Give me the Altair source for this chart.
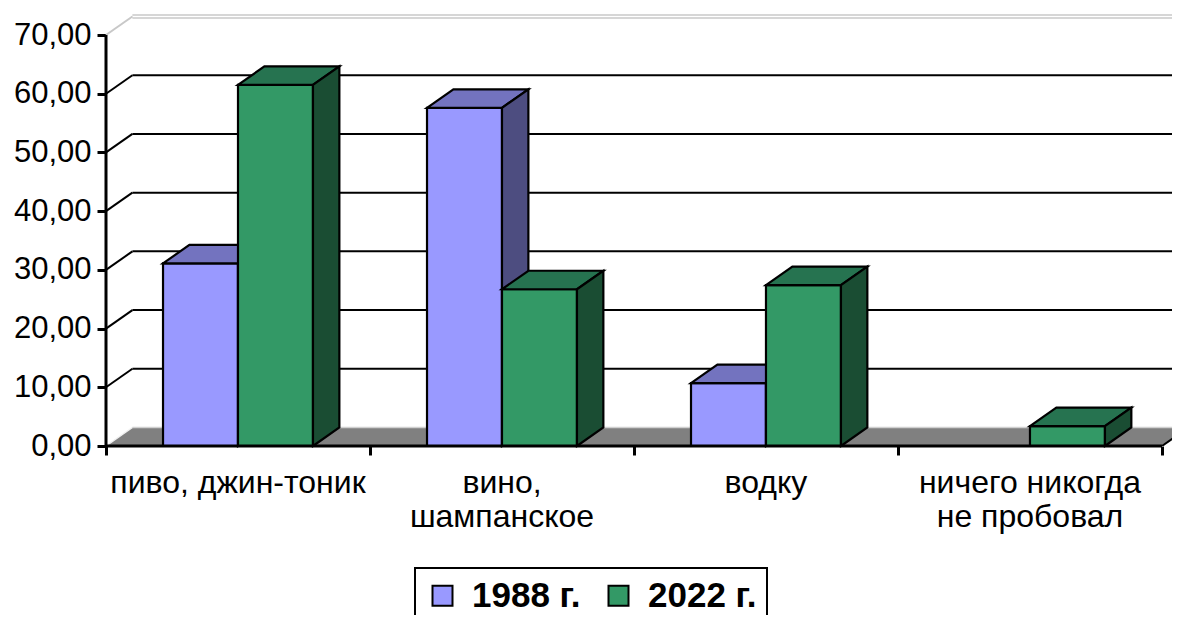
import altair as alt
import pandas as pd

# ---- data ----
categories = ["пиво, джин-тоник", "вино,\nшампанское", "водку", "ничего никогда\nне пробовал"]
series = ["1988 г.", "2022 г."]
values_1988 = [31.1, 57.6, 10.7, None]
values_2022 = [61.5, 26.7, 27.4, 3.4]
y_ticks = [0, 10, 20, 30, 40, 50, 60, 70]

# ---- styles ----
front_colors = ["#9999FF", "#339966"]
top_colors = ["#7373BF", "#267350"]
side_colors = ["#4D4D80", "#1A4D33"]
FONT = "Liberation Sans"

# 3D depth (in data units) and bar layout inside a category slot
DX = 0.1
DY = 3.15
BAR_OFF = 0.216
BAR_W = 0.284
N = len(categories)
X_MAX = 4.038
Y_MAX = 74.6

xs = alt.Scale(domain=[0, X_MAX], nice=False, zero=False)
ys = alt.Scale(domain=[0, Y_MAX], nice=False, zero=True)
xaxis = alt.Axis(values=list(range(N + 1)), labels=False, domain=False, grid=False,
                 tickSize=9, tickWidth=3, tickColor="black", title=None)
yaxis = alt.Axis(values=y_ticks, domain=False, grid=False, tickSize=9, tickWidth=3,
                 tickColor="black", title=None,
                 labelExpr="replace(format(datum.value, '.2f'), '.', ',')",
                 labelFont=FONT, labelFontSize=31, labelColor="black", labelPadding=6)


def X(f):
    return alt.X(f, type="quantitative", scale=xs, axis=xaxis)


def Y(f):
    return alt.Y(f, type="quantitative", scale=ys, axis=yaxis, stack=None)


# ---- build tables ----
front, top, side = [], [], []
for j, (s, vals) in enumerate(zip(series, [values_1988, values_2022])):
    for i, v in enumerate(vals):
        if v is None:
            continue
        x0 = i + BAR_OFF + j * BAR_W
        x1 = x0 + BAR_W
        b = f"{j}-{i}"
        front.append(dict(series=s, bar=b, x0=x0, x1=x1, y0=0.0, v=v))
        top += [
            dict(series=s, bar=b, x=x0, y=v, y2=v),
            dict(series=s, bar=b, x=x0 + DX, y=v, y2=v + DY),
            dict(series=s, bar=b, x=x1, y=v, y2=v + DY),
            dict(series=s, bar=b, x=x1 + DX, y=v + DY, y2=v + DY),
        ]
        side += [
            dict(series=s, bar=b, x=x1, y=0.0, y2=v),
            dict(series=s, bar=b, x=x1 + DX, y=DY, y2=v + DY),
        ]
front = pd.DataFrame(front)
top = pd.DataFrame(top)
side = pd.DataFrame(side)

grid = pd.DataFrame({"t": y_ticks})
grid["xa"] = 0.0
grid["xb"] = DX
grid["xe"] = N + DX
grid["ya"] = grid["t"].astype(float)
grid["yb"] = grid["t"] + DY
inner = grid[(grid.t > 0) & (grid.t < max(y_ticks))]
topg = grid[grid.t == max(y_ticks)]
zerog = grid[grid.t == 0]

floor = pd.DataFrame({"x": [0, DX, N, N + DX], "y": [0, 0, 0, DY], "y2": [0, DY, DY, DY]})
edge = pd.DataFrame({"xa": [float(N)], "xb": [N + DX], "ya": [0.0], "yb": [DY]})
axes_df = pd.DataFrame({"xa": [0.0], "xe": [float(N)], "ya": [0.0], "yt": [float(max(y_ticks))]})
labels = pd.DataFrame({"x": [i + 0.5 for i in range(N)], "label": categories})

# ---- layers ----
layers = []
layers.append(alt.Chart(inner).mark_rule(color="black", strokeWidth=2, clip=True)
              .encode(x=X("xb"), x2="xe", y=Y("yb")))
layers.append(alt.Chart(topg).mark_rule(color="#C8C8C8", strokeWidth=4.5, clip=True)
              .encode(x=X("xb"), x2="xe", y=Y("yb")))
layers.append(alt.Chart(topg).mark_rule(color="white", strokeWidth=1.5, clip=True)
              .encode(x=X("xb"), x2="xe", y=Y("yb")))
layers.append(alt.Chart(floor).mark_area(color="#808080", clip=True)
              .encode(x=X("x"), y=Y("y"), y2="y2"))
layers.append(alt.Chart(zerog).mark_rule(color="#D0D0D0", strokeWidth=1.5, clip=True)
              .encode(x=X("xb"), x2="xe", y=Y("yb")))
layers.append(alt.Chart(inner).mark_rule(color="black", strokeWidth=2)
              .encode(x=X("xa"), x2="xb", y=Y("ya"), y2="yb"))
layers.append(alt.Chart(topg).mark_rule(color="#C8C8C8", strokeWidth=2)
              .encode(x=X("xa"), x2="xb", y=Y("ya"), y2="yb"))
layers.append(alt.Chart(zerog).mark_rule(color="#F0F0F0", strokeWidth=1.5)
              .encode(x=X("xa"), x2="xb", y=Y("ya"), y2="yb"))
layers.append(alt.Chart(edge).mark_rule(color="black", strokeWidth=2, clip=True)
              .encode(x=X("xa"), x2="xb", y=Y("ya"), y2="yb"))

legend = alt.Legend(title=None, orient="none", legendX=309, legendY=560,
                    direction="horizontal", symbolType="square", symbolSize=400,
                    symbolStrokeColor="black", symbolStrokeWidth=2,
                    labelFont=FONT, labelFontSize=35, labelFontWeight="bold",
                    labelColor="black", strokeColor="black", padding=10,
                    columnPadding=20, labelOffset=12, labelLimit=0)
color = alt.Color("series:N", scale=alt.Scale(domain=series, range=front_colors), legend=legend)

for j, s in enumerate(series):
    flt = alt.datum.series == s
    layers.append(alt.Chart(front).transform_filter(flt)
                  .mark_rect(stroke="black", strokeWidth=2.2, strokeJoin="miter")
                  .encode(x=X("x0"), x2="x1", y=Y("y0"), y2="v", color=color))
    layers.append(alt.Chart(top).transform_filter(flt)
                  .mark_area(fill=top_colors[j], stroke="black", strokeWidth=2.2, strokeJoin="miter")
                  .encode(x=X("x"), y=Y("y"), y2="y2", detail="bar:N"))
    layers.append(alt.Chart(side).transform_filter(flt)
                  .mark_area(fill=side_colors[j], stroke="black", strokeWidth=2.2, strokeJoin="miter")
                  .encode(x=X("x"), y=Y("y"), y2="y2", detail="bar:N"))

layers.append(alt.Chart(axes_df).mark_rule(color="black", strokeWidth=3)
              .encode(x=X("xa"), y=Y("ya"), y2="yt"))
layers.append(alt.Chart(axes_df).mark_rule(color="black", strokeWidth=3)
              .encode(x=X("xa"), x2="xe", y=Y("ya")))
layers.append(alt.Chart(labels).mark_text(font=FONT, fontSize=32, color="black",
                                          align="center", baseline="alphabetic",
                                          lineBreak="\n", lineHeight=34)
              .encode(x=X("x"), y=alt.value(485), text="label:N"))

chart = (alt.layer(*layers)
         .properties(width=1066, height=438,
                     autosize=alt.AutoSizeParams(type="none"),
                     padding={"left": 98, "top": 0, "right": 0, "bottom": 169})
         .configure_view(stroke=None)
         .configure_legend(strokeWidth=2))

chart.save("out.html", embed_options={"renderer": "svg", "actions": False})
